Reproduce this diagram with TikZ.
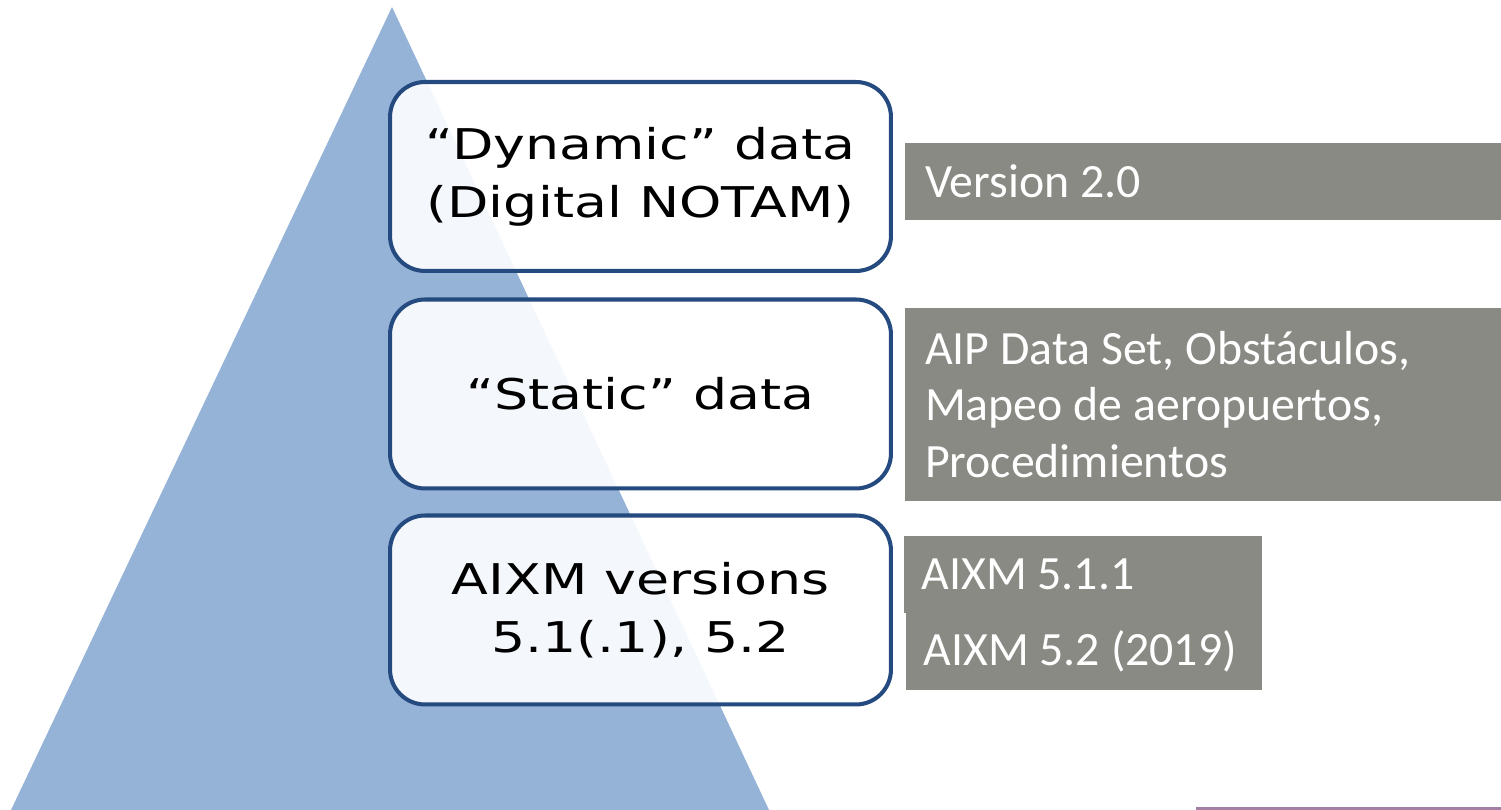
\documentclass[tikz,border=0pt]{standalone}
\usepackage{fontspec}
\setmainfont{Carlito}
\newfontfamily\levelfont[FakeStretch=1.27]{DejaVu Sans}
\definecolor{pyramid}{HTML}{95B3D7}
\definecolor{levelborder}{HTML}{254A7F}
\definecolor{infogray}{HTML}{8A8A84}
\definecolor{rulepurple}{HTML}{A47FA4}
\tikzset{
 levelbox/.style={draw=levelborder,line width=2.3pt,rounded corners=0.7cm,fill=white,fill opacity=0.9,text opacity=1,
  minimum width=10.02cm,minimum height=3.78cm,align=center,font=\levelfont\fontsize{24.1}{32.9}\selectfont},
 infobox/.style={fill=infogray,text=white,inner xsep=0.4cm,inner ysep=0pt,align=flush left,
  font=\fontsize{27.2}{32}\selectfont},
}
\begin{document}
\begin{tikzpicture}[x=0.02cm,y=0.02cm]
 \useasboundingbox (0,0) rectangle (1501,810);
 % pyramid
 \fill[pyramid] (392,803)--(11,0)--(769,0)--cycle;
 % levels
 \node[levelbox] (dynamic) at (640.5,633.5) {“Dynamic” data\\(Digital NOTAM)};
 \node[levelbox] (static) at (640.5,416) {“Static” data};
 \node[levelbox] (versions) at (640.5,200) {AIXM versions\\5.1(.1), 5.2};
 % notes
 \node[infobox,text width=11.12cm,minimum height=1.54cm] (dynnote) at (1203,628.5) {Version 2.0};
 \node[infobox,text width=11.12cm,minimum height=3.86cm] (statnote) at (1203,405.5)
  {AIP Data Set, Obstáculos,\\Mapeo de aeropuertos,\\Procedimientos};
 \node[infobox,inner xsep=0.35cm,text width=6.46cm,minimum height=1.54cm] (aixmold) at (1083,235.5) {AIXM 5.1.1};
 \node[infobox,inner xsep=0.35cm,text width=6.42cm,minimum height=1.54cm] (aixmnew) at (1084,158.5) {AIXM 5.2 (2019)};
 \fill[rulepurple] (1196,0) rectangle (1501,3);
\end{tikzpicture}
\end{document}
